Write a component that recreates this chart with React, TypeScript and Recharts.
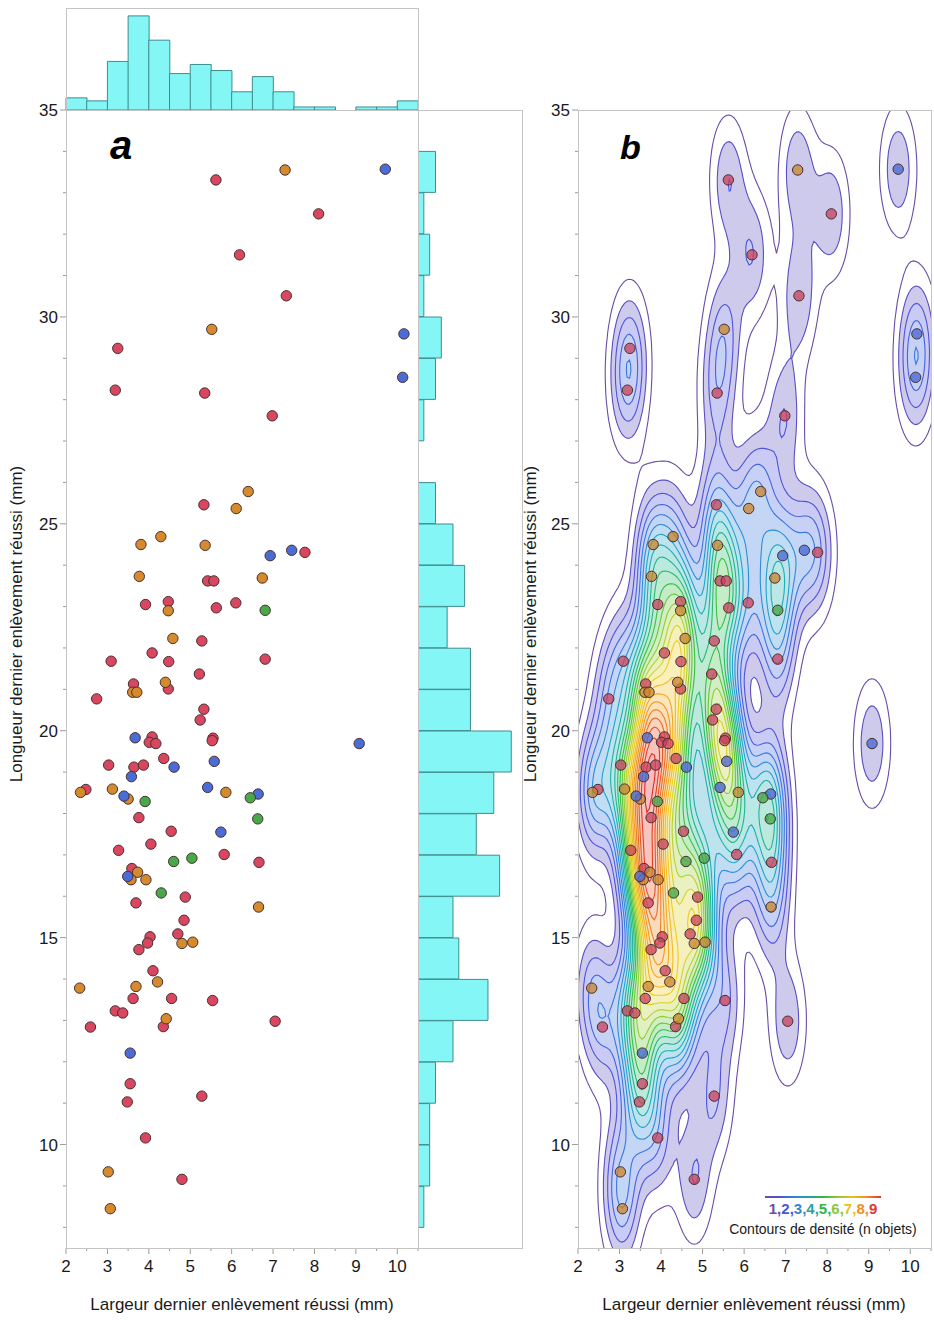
import React from 'react';
import { ScatterChart, Scatter, XAxis, YAxis, BarChart, Bar } from 'recharts';

// ---------- data ----------
const redPts: [number, number][] = [
  [5.62, 33.31], [8.10, 32.49], [6.19, 31.50], [7.32, 30.51], [3.25, 29.24], [3.19, 28.23], [5.35, 28.16], [6.98, 27.61],
  [5.33, 25.46], [7.77, 24.31], [5.42, 23.62], [5.57, 23.62], [3.92, 23.05], [4.47, 23.12], [5.63, 22.97], [6.10, 23.09],
  [5.28, 22.17], [4.08, 21.88], [3.09, 21.68], [4.48, 21.67], [6.81, 21.73], [5.22, 21.37], [3.63, 21.13], [4.47, 21.01],
  [2.74, 20.77], [5.33, 20.52], [5.24, 20.26], [4.08, 19.85], [4.01, 19.72], [4.17, 19.69], [5.55, 19.82], [5.53, 19.76],
  [4.36, 19.33], [3.03, 19.17], [3.64, 19.12], [3.87, 19.17], [2.48, 18.58], [3.76, 17.90], [4.54, 17.57], [3.27, 17.11],
  [4.05, 17.26], [5.82, 17.01], [6.66, 16.82], [3.59, 16.67], [4.88, 15.98], [3.69, 15.84], [4.85, 15.42],
  [4.70, 15.09], [4.03, 15.02], [3.97, 14.87], [3.76, 14.71], [4.10, 14.20], [3.62, 13.53], [4.55, 13.53], [5.54, 13.48],
  [3.19, 13.23], [3.37, 13.18], [4.35, 12.85], [2.59, 12.84], [7.05, 12.98], [3.55, 11.47], [3.48, 11.03], [5.28, 11.17],
  [3.92, 10.16], [4.80, 9.16],
];
const orangePts: [number, number][] = [
  [7.29, 33.55], [5.52, 29.70], [6.40, 25.78], [6.11, 25.37], [4.29, 24.69], [3.81, 24.50], [5.36, 24.48], [3.77, 23.73],
  [6.74, 23.69], [4.47, 22.90], [4.58, 22.23], [4.40, 21.17], [3.61, 20.93], [3.71, 20.93], [2.35, 18.51], [3.12, 18.59],
  [3.50, 18.35], [5.86, 18.51], [3.73, 16.58], [3.57, 16.40], [3.93, 16.40], [6.65, 15.74], [4.80, 14.86], [5.06, 14.89],
  [4.21, 13.93], [2.33, 13.78], [3.69, 13.82], [4.42, 13.04], [3.02, 9.34], [3.07, 8.45],
];
const bluePts: [number, number][] = [
  [9.71, 33.57], [10.16, 29.59], [10.13, 28.54], [6.93, 24.23], [7.45, 24.36], [3.67, 19.83], [9.08, 19.69], [4.61, 19.12],
  [5.58, 19.26], [3.58, 18.89], [3.40, 18.42], [5.42, 18.63], [6.64, 18.47], [5.74, 17.55], [3.49, 16.48], [3.55, 12.21],
];
const greenPts: [number, number][] = [
  [6.81, 22.91], [3.91, 18.29], [6.45, 18.38], [6.63, 17.87], [4.60, 16.84], [5.04, 16.92], [4.30, 16.08],
];

// top marginal histogram (width bins of 0.5 mm from 2 to 10.5)
const topHistBins = ['2', '2.5', '3', '3.5', '4', '4.5', '5', '5.5', '6', '6.5', '7', '7.5', '8', '8.5', '9', '9.5', '10'];
const topHistCounts = [4, 3, 16, 31, 23, 12, 15, 13, 6, 11, 6, 1, 1, 0, 1, 1, 3];
// right marginal histogram (length bins of 1 mm, top to bottom)
const rightHistBins = [34, 33, 32, 31, 30, 29, 28, 27, 26, 25, 24, 23, 22, 21, 20, 19, 18, 17, 16, 15, 14, 13, 12, 11, 10, 9, 8];
const rightHistCounts = [0, 3, 1, 2, 1, 4, 3, 1, 0, 3, 6, 8, 5, 9, 9, 16, 13, 10, 14, 6, 7, 12, 6, 3, 2, 2, 1];

const xTicks = [2, 2.5, 3, 3.5, 4, 4.5, 5, 5.5, 6, 6.5, 7, 7.5, 8, 8.5, 9, 9.5, 10, 10.5];
const yTicks = [8, 9, 10, 11, 12, 13, 14, 15, 16, 17, 18, 19, 20, 21, 22, 23, 24, 25, 26, 27, 28, 29, 30, 31, 32, 33, 34, 35];
const legendDigits = ['1', '2', '3', '4', '5', '6', '7', '8', '9'];
const legendColors = ['#6a4ca6', '#4c55d6', '#2f86cf', '#1fa3a6', '#35b443', '#8cc63a', '#e8c21e', '#ef8f22', '#e0372c'];

// ---------- styling ----------
const FONT = '"Liberation Sans", Arial, Helvetica, sans-serif';
const COLORS = { red: '#d8465f', orange: '#d68a2e', blue: '#4b6bd6', green: '#48a84a' };
const BOX = '#c4c4c4';
const HIST_FILL = '#84f6f6';
const HIST_STROKE = '#3f8d8d';

const levelStops: [number, [number, number, number]][] = [
  [0.0, [106, 76, 166]],
  [0.08, [80, 80, 216]],
  [0.18, [58, 120, 224]],
  [0.27, [32, 168, 200]],
  [0.36, [32, 184, 136]],
  [0.44, [60, 192, 64]],
  [0.54, [168, 208, 48]],
  [0.64, [240, 208, 32]],
  [0.78, [240, 154, 32]],
  [1.0, [224, 40, 40]],
];
function levelColor(t: number): [number, number, number] {
  for (let i = 0; i < levelStops.length - 1; i++) {
    const [t0, c0] = levelStops[i];
    const [t1, c1] = levelStops[i + 1];
    if (t <= t1) {
      const f = (t - t0) / (t1 - t0);
      return [0, 1, 2].map((k) => Math.round(c0[k] + (c1[k] - c0[k]) * f)) as [number, number, number];
    }
  }
  return levelStops[levelStops.length - 1][1];
}
const rgb = (c: [number, number, number]) => `rgb(${c[0]},${c[1]},${c[2]})`;
const pastel = (c: [number, number, number], a: number) =>
  rgb([0, 1, 2].map((k) => Math.round(255 - (255 - c[k]) * a)) as [number, number, number]);

// ---------- density contours derived from the scatter points ----------
const HX = 0.31;
const HY = 1.08;
const GX0 = 1.2, GX1 = 11.4, GY0 = 5.0, GY1 = 38.0, GDX = 0.06, GDY = 0.15;
const LEVEL_STEP = 0.35; // contour spacing, in units of one isolated object's peak

type Contour = { pts: { x: number; y: number }[]; lens: number[]; stroke: string; fill: string };

function buildContours(pts: [number, number][]): Contour[] {
  const nx = Math.round((GX1 - GX0) / GDX) + 1;
  const ny = Math.round((GY1 - GY0) / GDY) + 1;
  const g = new Float64Array(nx * ny);
  let M = 0;
  for (let j = 1; j < ny - 1; j++) {
    const gy = GY0 + j * GDY;
    for (let i = 1; i < nx - 1; i++) {
      const gx = GX0 + i * GDX;
      let s = 0;
      for (const [px, py] of pts) {
        const u = (gx - px) / HX;
        if (u > 5 || u < -5) continue;
        const v = (gy - py) / HY;
        if (v > 5 || v < -5) continue;
        s += Math.exp(-0.5 * (u * u + v * v));
      }
      g[j * nx + i] = s;
      if (s > M) M = s;
    }
  }
  const NL = Math.max(2, Math.min(24, Math.floor(M / LEVEL_STEP - 0.15)));
  const out: Contour[] = [];
  const NN = nx * ny;
  for (let k = 1; k <= NL; k++) {
    const L = k * LEVEL_STEP;
    const nb = new Map<number, number[]>();
    const add = (a: number, b: number) => {
      let A = nb.get(a); if (!A) { A = []; nb.set(a, A); } A.push(b);
      let B = nb.get(b); if (!B) { B = []; nb.set(b, B); } B.push(a);
    };
    for (let j = 0; j < ny - 1; j++) {
      for (let i = 0; i < nx - 1; i++) {
        const a = g[j * nx + i], b = g[j * nx + i + 1], c = g[(j + 1) * nx + i + 1], d = g[(j + 1) * nx + i];
        const ca = a >= L, cb = b >= L, cc = c >= L, cd = d >= L;
        if (ca === cb && cb === cc && cc === cd) continue;
        const bottom = j * nx + i, top = (j + 1) * nx + i, left = NN + j * nx + i, right = NN + j * nx + i + 1;
        const e: number[] = [];
        if (ca !== cb) e.push(bottom);
        if (cb !== cc) e.push(right);
        if (cd !== cc) e.push(top);
        if (ca !== cd) e.push(left);
        if (e.length === 2) add(e[0], e[1]);
        else {
          const center = (a + b + c + d) / 4 >= L;
          if (ca && cc) {
            if (center) { add(bottom, right); add(top, left); } else { add(bottom, left); add(top, right); }
          } else {
            if (center) { add(bottom, left); add(top, right); } else { add(bottom, right); add(top, left); }
          }
        }
      }
    }
    const pos = (key: number) => {
      if (key < NN) {
        const j = Math.floor(key / nx), i = key % nx;
        const v0 = g[key], v1 = g[key + 1];
        const t = (L - v0) / (v1 - v0);
        return { x: +(GX0 + (i + t) * GDX).toFixed(4), y: +(GY0 + j * GDY).toFixed(4) };
      }
      const kk = key - NN;
      const j = Math.floor(kk / nx), i = kk % nx;
      const v0 = g[kk], v1 = g[kk + nx];
      const t = (L - v0) / (v1 - v0);
      return { x: +(GX0 + i * GDX).toFixed(4), y: +(GY0 + (j + t) * GDY).toFixed(4) };
    };
    const visited = new Set<number>();
    const vpts: { x: number; y: number }[] = [];
    const lens: number[] = [];
    for (const start of nb.keys()) {
      if (visited.has(start)) continue;
      const loop: number[] = [start];
      visited.add(start);
      let cur = start;
      for (;;) {
        const ns = nb.get(cur)!;
        let nxt = -1;
        for (const n of ns) if (!visited.has(n)) { nxt = n; break; }
        if (nxt < 0) break;
        visited.add(nxt);
        loop.push(nxt);
        cur = nxt;
      }
      if (loop.length < 3) continue;
      for (const key of loop) vpts.push(pos(key));
      lens.push(loop.length);
    }
    const col = levelColor((k - 1) / (NL - 1));
    out.push({ pts: vpts, lens, stroke: rgb(col), fill: k === 1 ? 'none' : pastel(col, 0.3) });
  }
  return out;
}

const allPts: [number, number][] = [...redPts, ...orangePts, ...bluePts, ...greenPts];
const contours = buildContours(allPts);

// ---------- render helpers ----------
const toObjs = (arr: [number, number][]) => arr.map(([x, y]) => ({ x, y }));
const topHistData = topHistBins.map((b, i) => ({ bin: b, n: topHistCounts[i] }));
const rightHistData = rightHistBins.map((b, i) => ({ bin: String(b), n: rightHistCounts[i] }));

const XTick = (props: any) => {
  const { x, y, payload } = props;
  const v = payload.value as number;
  const major = Number.isInteger(v);
  return (
    <g>
      <line x1={x} x2={x} y1={y} y2={y + (major ? 6 : 3)} stroke="#9a9a9a" />
      {major && (
        <text x={x} y={y + 24} textAnchor="middle" fontSize={17} fill="#1a1a1a" fontFamily={FONT}>
          {v}
        </text>
      )}
    </g>
  );
};
const YTick = (props: any) => {
  const { x, y, payload } = props;
  const v = payload.value as number;
  const major = v % 5 === 0;
  return (
    <g>
      <line x1={x} x2={x - (major ? 6 : 3)} y1={y} y2={y} stroke="#9a9a9a" />
      {major && (
        <text x={x - 8} y={y} dy="0.36em" textAnchor="end" fontSize={17} fill="#1a1a1a" fontFamily={FONT}>
          {v}
        </text>
      )}
    </g>
  );
};

const dot = (fill: string, opacity: number) => (p: any) => (
  <circle cx={p.cx} cy={p.cy} r={5.2} fill={fill} fillOpacity={opacity} stroke="#473030" strokeWidth={1} />
);
const noShape = () => <g />;
const loopRenderer = (lens: number[], stroke: string, fill: string) => (props: any) => {
  const pts = props.points as { x: number; y: number }[];
  let d = '';
  let idx = 0;
  for (const n of lens) {
    for (let m = 0; m < n; m++) {
      const p = pts[idx + m];
      if (!p) continue;
      d += (m === 0 ? 'M' : 'L') + p.x.toFixed(1) + ',' + p.y.toFixed(1);
    }
    d += 'Z';
    idx += n;
  }
  return <path d={d} fill={fill} fillRule="evenodd" stroke={stroke} strokeWidth={1.1} />;
};

const abs = (s: React.CSSProperties): React.CSSProperties => ({ position: 'absolute', ...s });
const boxStyle = (l: number, t: number, r: number, b: number): React.CSSProperties =>
  abs({ left: l, top: t, width: r - l, height: b - t, border: `1px solid ${BOX}`, boxSizing: 'border-box', pointerEvents: 'none' });

const yTitle = 'Longueur dernier enlèvement réussi (mm)';
const xTitle = 'Largeur dernier enlèvement réussi (mm)';

const RotLabel = ({ cx, cy, text }: { cx: number; cy: number; text: string }) => (
  <div
    style={abs({
      left: cx - 300, top: cy - 10, width: 600, height: 20, lineHeight: '20px', textAlign: 'center',
      transform: 'rotate(-90deg)', fontSize: 17, color: '#1a1a1a', whiteSpace: 'nowrap',
    })}
  >
    {text}
  </div>
);

export default function App() {
  return (
    <div style={abs({ left: 0, top: 0, width: 934, height: 1320, background: '#fff', fontFamily: FONT, overflow: 'hidden' })}>
      {/* Panel a : top histogram */}
      <div style={abs({ left: 0, top: 0 })}>
        <BarChart width={430} height={112} data={topHistData} margin={{ top: 8, right: 12, bottom: 2, left: 66 }} barCategoryGap={0} barGap={0}>
          <XAxis dataKey="bin" hide />
          <YAxis type="number" domain={[0, 33.6]} hide allowDataOverflow />
          <Bar dataKey="n" fill={HIST_FILL} stroke={HIST_STROKE} strokeWidth={1} isAnimationActive={false} />
        </BarChart>
      </div>
      {/* Panel a : right histogram */}
      <div style={abs({ left: 410, top: 0 })}>
        <BarChart layout="vertical" width={120} height={1320} data={rightHistData} margin={{ top: 110, right: 8, bottom: 92.2, left: 8 }} barCategoryGap={0} barGap={0}>
          <XAxis type="number" domain={[0, 17.84]} hide allowDataOverflow />
          <YAxis type="category" dataKey="bin" hide />
          <Bar dataKey="n" fill={HIST_FILL} stroke={HIST_STROKE} strokeWidth={1} isAnimationActive={false} />
        </BarChart>
      </div>
      {/* Panel a : scatter */}
      <div style={abs({ left: 0, top: 0 })}>
        <ScatterChart width={430} height={1320} margin={{ top: 110, right: 12, bottom: 32, left: 16 }}>
          <XAxis type="number" dataKey="x" domain={[2, 10.5]} ticks={xTicks} interval={0} allowDataOverflow
            tickLine={false} tickSize={0} tickMargin={0} axisLine={false} height={40} tick={(p: any) => <XTick {...p} />} />
          <YAxis type="number" dataKey="y" domain={[7.5, 35]} ticks={yTicks} interval={0} allowDataOverflow
            tickLine={false} tickSize={0} tickMargin={0} axisLine={false} width={50} tick={(p: any) => <YTick {...p} />} />
          <Scatter data={toObjs(redPts)} shape={dot(COLORS.red, 1)} isAnimationActive={false} />
          <Scatter data={toObjs(orangePts)} shape={dot(COLORS.orange, 1)} isAnimationActive={false} />
          <Scatter data={toObjs(bluePts)} shape={dot(COLORS.blue, 1)} isAnimationActive={false} />
          <Scatter data={toObjs(greenPts)} shape={dot(COLORS.green, 1)} isAnimationActive={false} />
        </ScatterChart>
      </div>
      {/* Panel b : contours + scatter */}
      <div style={abs({ left: 512, top: 0 })}>
        <ScatterChart width={422} height={1320} margin={{ top: 110, right: 3, bottom: 32, left: 16 }}>
          <XAxis type="number" dataKey="x" domain={[2, 10.5]} ticks={xTicks} interval={0} allowDataOverflow
            tickLine={false} tickSize={0} tickMargin={0} axisLine={false} height={40} tick={(p: any) => <XTick {...p} />} />
          <YAxis type="number" dataKey="y" domain={[7.5, 35]} ticks={yTicks} interval={0} allowDataOverflow
            tickLine={false} tickSize={0} tickMargin={0} axisLine={false} width={50} tick={(p: any) => <YTick {...p} />} />
          {contours.map((c, k) => (
            <Scatter key={`lvl${k}`} data={c.pts} shape={noShape} line={loopRenderer(c.lens, c.stroke, c.fill)}
              lineType="joint" isAnimationActive={false} legendType="none" />
          ))}
          <Scatter data={toObjs(redPts)} shape={dot('#c8405e', 0.75)} isAnimationActive={false} />
          <Scatter data={toObjs(orangePts)} shape={dot('#c8842c', 0.75)} isAnimationActive={false} />
          <Scatter data={toObjs(bluePts)} shape={dot(COLORS.blue, 0.8)} isAnimationActive={false} />
          <Scatter data={toObjs(greenPts)} shape={dot(COLORS.green, 0.8)} isAnimationActive={false} />
        </ScatterChart>
      </div>

      {/* boxes */}
      <div style={boxStyle(66, 8, 419, 111)} />
      <div style={boxStyle(66, 110, 419, 1249)} />
      <div style={boxStyle(418, 110, 523, 1249)} />
      <div style={boxStyle(578, 110, 932, 1249)} />

      {/* panel letters */}
      <div style={abs({ left: 110, top: 122, fontSize: 40, fontWeight: 'bold', fontStyle: 'italic', lineHeight: '46px', color: '#000' })}>a</div>
      <div style={abs({ left: 620, top: 126, fontSize: 34, fontWeight: 'bold', fontStyle: 'italic', lineHeight: '42px', color: '#000' })}>b</div>

      {/* axis titles */}
      <div style={abs({ left: 42, top: 1295, width: 400, textAlign: 'center', fontSize: 17, lineHeight: '20px', color: '#1a1a1a', whiteSpace: 'nowrap' })}>{xTitle}</div>
      <div style={abs({ left: 554, top: 1295, width: 400, textAlign: 'center', fontSize: 17, lineHeight: '20px', color: '#1a1a1a', whiteSpace: 'nowrap' })}>{xTitle}</div>
      <RotLabel cx={17} cy={624} text={yTitle} />
      <RotLabel cx={531} cy={624} text={yTitle} />

      {/* contour legend */}
      <div style={abs({ left: 765, top: 1196, width: 116, height: 2, background: `linear-gradient(to right, ${legendColors.join(',')})` })} />
      <div style={abs({ left: 700, top: 1200, width: 246, textAlign: 'center', fontSize: 15, fontWeight: 600, lineHeight: '18px' })}>
        {legendDigits.map((d, i) => (
          <span key={d} style={{ color: legendColors[i] }}>{d}{i < legendDigits.length - 1 ? ',' : ''}</span>
        ))}
      </div>
      <div style={abs({ left: 700, top: 1220, width: 246, textAlign: 'center', fontSize: 14, color: '#1a1a1a', lineHeight: '18px' })}>
        Contours de densité (n objets)
      </div>
    </div>
  );
}
